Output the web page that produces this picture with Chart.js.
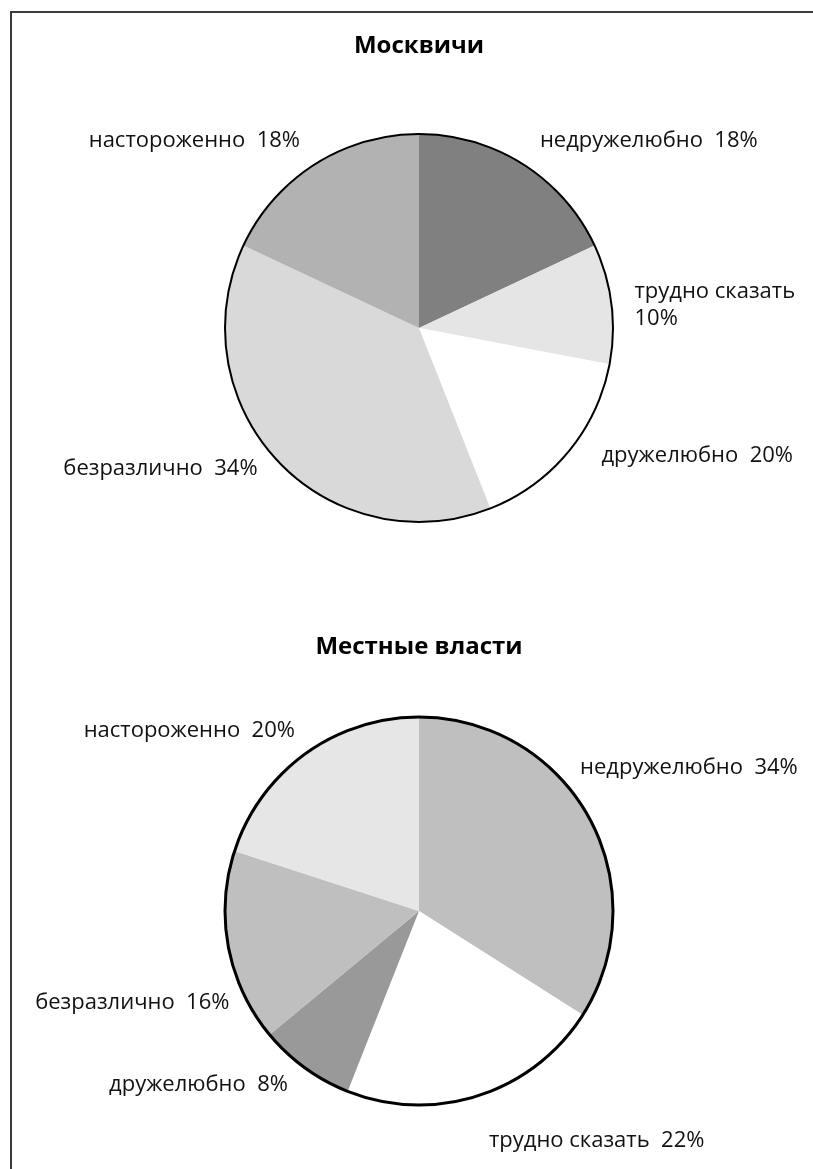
<!DOCTYPE html>
<html>
<head>
<meta charset="utf-8">
<script src="https://cdn.jsdelivr.net/npm/chart.js@4"></script>
<style>
  html, body { margin: 0; padding: 0; background: #fff; }
  body { width: 813px; height: 1169px; position: relative; overflow: hidden; }
  #frame { position: absolute; left: 10px; top: 11px; width: 900px; height: 1300px;
           border-left: 2px solid #3a3a3a; border-top: 2px solid #3a3a3a; box-sizing: border-box; }
  .box { position: absolute; left: 0; width: 813px; }
  #b1 { top: 0; height: 580px; }
  #b2 { top: 590px; height: 579px; }
</style>
</head>
<body>
<div id="frame"></div>
<div class="box" id="b1"><canvas id="c1" width="813" height="580"></canvas></div>
<div class="box" id="b2"><canvas id="c2" width="813" height="579"></canvas></div>
<script>
// ---- data ----
const categories = ["недружелюбно", "трудно сказать", "дружелюбно", "безразлично", "настороженно"];
const titleMoscow = "Москвичи";
const titleLocal = "Местные власти";
// slice sizes as drawn in the picture
const valuesMoscow = [18, 10, 16, 38, 18];
const valuesLocal = [34, 22, 8, 16, 20];
// percentages as printed on the labels
const printedMoscow = [18, 10, 20, 34, 18];
const printedLocal = [34, 22, 8, 16, 20];
const colorsMoscow = ["#808080", "#e5e5e5", "#ffffff", "#d9d9d9", "#b2b2b2"];
const colorsLocal = ["#bfbfbf", "#ffffff", "#999999", "#bfbfbf", "#e6e6e6"];
// which labels break the percentage onto a second line
const wrapMoscow = [false, true, false, false, false];
const wrapLocal = [false, false, false, false, false];
// label placement nudges (px) from the slice's outer mid-point
const nudgeMoscow = [[17, -23], [23, 2], [33, 4], [-20, 8], [-15, -23]];
const nudgeLocal = [[-9, -50], [10, 45], [-17, 17], [1, 55], [-10, -23]];

const LABEL_FONT = '22px "Open Sans"';
const TITLE_FONT = { family: '"Open Sans"', size: 24, weight: 'bold' };

function makeLabels(printed, wrap) {
  return categories.map((c, i) => wrap[i] ? [c, printed[i] + "%"] : [c + "  " + printed[i] + "%"]);
}

const outlinePlugin = {
  id: 'outline',
  afterDatasetsDraw(chart, args, opts) {
    const arc = chart.getDatasetMeta(0).data[0];
    if (!arc) return;
    const ctx = chart.ctx;
    ctx.save();
    ctx.beginPath();
    ctx.arc(arc.x, arc.y, arc.outerRadius, 0, Math.PI * 2);
    ctx.lineWidth = opts.width || 2;
    ctx.strokeStyle = '#000';
    ctx.stroke();
    ctx.restore();
  }
};

const labelPlugin = {
  id: 'outLabels',
  afterDraw(chart, args, opts) {
    const ctx = chart.ctx;
    const meta = chart.getDatasetMeta(0);
    ctx.save();
    ctx.font = LABEL_FONT;
    ctx.fillStyle = '#111';
    ctx.textBaseline = 'middle';
    const lh = 27;
    meta.data.forEach((arc, i) => {
      const a = (arc.startAngle + arc.endAngle) / 2;
      const px = arc.x + Math.cos(a) * arc.outerRadius;
      const py = arc.y + Math.sin(a) * arc.outerRadius;
      const n = opts.nudges[i];
      const lines = opts.labels[i];
      ctx.textAlign = Math.cos(a) >= 0 ? 'left' : 'right';
      const x = px + n[0];
      const y0 = py + n[1] - (lines.length - 1) * lh / 2;
      lines.forEach((t, k) => ctx.fillText(t, x, y0 + k * lh));
    });
    ctx.restore();
  }
};

function makeChart(id, title, values, colors, labels, nudges, lay, outlineW) {
  return new Chart(document.getElementById(id), {
    type: 'pie',
    data: {
      labels: categories,
      datasets: [{ data: values, backgroundColor: colors, borderWidth: 0 }]
    },
    options: {
      responsive: false,
      animation: false,
      layout: { padding: lay.padding },
      plugins: {
        legend: { display: false },
        tooltip: { enabled: false },
        title: { display: true, text: title, color: '#000', font: TITLE_FONT,
                 padding: lay.titlePad },
        outline: { width: outlineW },
        outLabels: { labels: labels, nudges: nudges }
      }
    },
    plugins: [outlinePlugin, labelPlugin]
  });
}

makeChart('c1', titleMoscow, valuesMoscow, colorsMoscow, makeLabels(printedMoscow, wrapMoscow), nudgeMoscow,
  { padding: { left: 225, right: 200, top: 0, bottom: 58 }, titlePad: { top: 31.6, bottom: 73.6 } }, 2);
makeChart('c2', titleLocal, valuesLocal, colorsLocal, makeLabels(printedLocal, wrapLocal), nudgeLocal,
  { padding: { left: 225, right: 200, top: 0, bottom: 64 }, titlePad: { top: 42.6, bottom: 55.6 } }, 3);
</script>
</body>
</html>
